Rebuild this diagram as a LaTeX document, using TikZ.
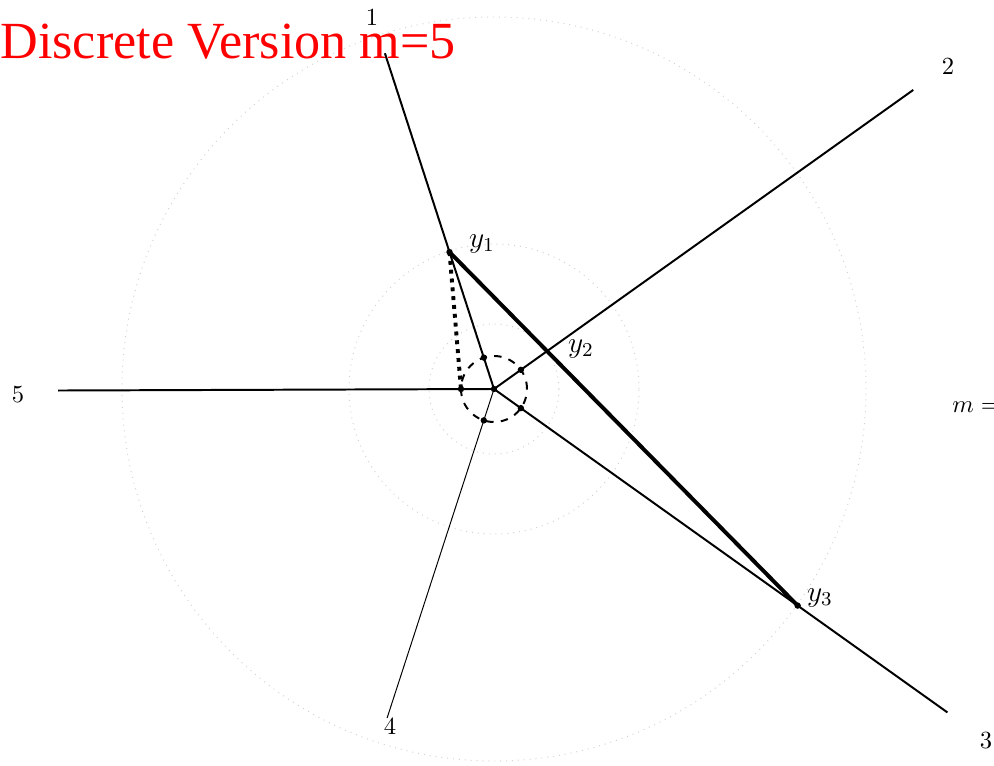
\documentclass[tikz,border=0pt]{standalone}
\usepackage{fontspec}
\newfontfamily\titlefont{Liberation Serif}
\begin{document}
\begin{tikzpicture}[x=0.4065pt,y=0.4065pt,
  guide/.style={gray!35,dotted,thin},
  ray/.style={black,thick},
  thinray/.style={black,thin},
  chord/.style={black,ultra thick},
  link/.style={black,ultra thick,dotted},
  smallcirc/.style={black,thick,dashed},
  pt/.style={circle,fill=black,inner sep=0pt,minimum size=2.6pt},
  lab/.style={inner sep=0pt,font=\normalsize},
  ylab/.style={inner sep=0pt,font=\large}]
\useasboundingbox (0,0) rectangle (994,765);
\coordinate (O) at (494,376);
% guide circles
\draw[guide] (O) circle[radius=372];
\draw[guide] (O) circle[radius=145];
\draw[guide] (O) circle[radius=65];
% ray ends
\path (O) ++(108:353) coordinate (e1);
\path (O) ++(35.5:515) coordinate (e2);
\path (O) ++(-35.5:557) coordinate (e3);
\path (O) ++(-108:346) coordinate (e4);
\path (O) ++(180.2:436) coordinate (e5);
% rays
\draw[ray] (O) -- (e1);
\draw[ray] (O) -- (e2);
\draw[ray] (O) -- (e3);
\draw[thinray] (O) -- (e4);
\draw[ray] (O) -- (e5);
% points
\path (O) ++(108:144) coordinate (y1);
\path (O) ++(-35.5:373) coordinate (y3);
\coordinate (y2) at (intersection of y1--y3 and O--e2);
\path (O) ++(108:33) coordinate (d1);
\path (O) ++(35.5:33) coordinate (d2);
\path (O) ++(-35.5:33) coordinate (d3);
\path (O) ++(-108:33) coordinate (d4);
\path (O) ++(180:33) coordinate (d5);
% chord and link
\draw[chord] (y1) -- (y3);
\draw[link] (y1) -- (d5);
\draw[smallcirc] (O) circle[radius=33];
% dots
\foreach \p in {O,y1,y3,d1,d2,d3,d4,d5} \node[pt] at (\p) {};
% labels
\node[lab] (l1) at (372,748) {1};
\node[lab] (l2) at (948,699) {2};
\node[lab] (l3) at (986,24) {3};
\node[lab] (l4) at (390,39) {4};
\node[lab] (l5) at (18,370) {5};
\node[ylab] (ly1) at (482,521) {$y_1$};
\node[ylab] (ly2) at (581,416) {$y_2$};
\node[ylab] (ly3) at (820,167) {$y_3$};
\node[lab,anchor=base west] (lm) at (952,353) {$m =$};
\node[inner sep=0pt,anchor=base west,text=red,font=\titlefont\fontsize{21.2pt}{25pt}\selectfont] (title) at (0,707) {Discrete Version m=5};
\end{tikzpicture}
\end{document}
